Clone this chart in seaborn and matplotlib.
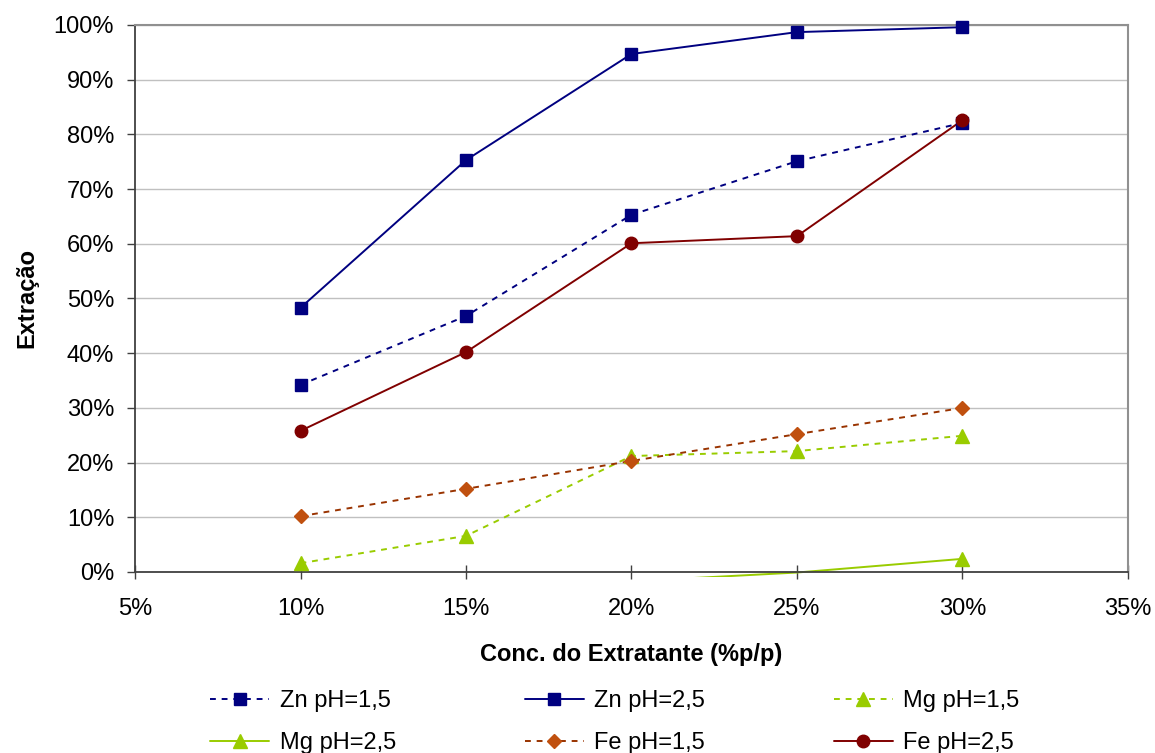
import matplotlib
matplotlib.use("Agg")
import matplotlib.pyplot as plt
import seaborn as sns
import pandas as pd
from matplotlib.patches import Rectangle
from matplotlib.lines import Line2D
from matplotlib.ticker import PercentFormatter, MultipleLocator

sns.set_theme(style="white")
plt.rcParams['font.family'] = ['Liberation Sans', 'DejaVu Sans']
plt.rcParams['text.color'] = 'black'
plt.rcParams['axes.labelcolor'] = 'black'

conc = [0.10, 0.15, 0.20, 0.25, 0.30]
zn_ph15 = [0.342, 0.468, 0.653, 0.751, 0.821]
zn_ph25 = [0.483, 0.753, 0.947, 0.987, 0.996]
mg_ph15 = [0.016, 0.066, 0.212, 0.221, 0.249]
mg_ph25 = [-0.08, -0.05, -0.017, -0.001, 0.024]
fe_ph15 = [0.102, 0.152, 0.203, 0.252, 0.300]
fe_ph25 = [0.258, 0.402, 0.601, 0.614, 0.826]

DOT = (0, (3, 3))
series = [
    ("Zn pH=1,5", zn_ph15, "#000080", "#000080", "s", DOT, 8.5),
    ("Zn pH=2,5", zn_ph25, "#000080", "#000080", "s", "-", 8.5),
    ("Mg pH=1,5", mg_ph15, "#99CC00", "#99CC00", "^", DOT, 9.5),
    ("Mg pH=2,5", mg_ph25, "#99CC00", "#99CC00", "^", "-", 9.5),
    ("Fe pH=1,5", fe_ph15, "#993300", "#C0500F", "D", DOT, 7),
    ("Fe pH=2,5", fe_ph25, "#800000", "#800000", "o", "-", 9),
]

fig = plt.figure(figsize=(11.55, 7.53), dpi=100)
ax = fig.add_axes([0.1169, 0.2404, 0.9766 - 0.1169, 0.9668 - 0.2404])

handles = {}
for name, vals, lc, mc, mk, ls, ms in series:
    df = pd.DataFrame({"x": conc, "y": vals})
    sns.lineplot(data=df, x="x", y="y", ax=ax, color=lc, linewidth=1.4,
                 linestyle=ls, legend=False)
    line = ax.lines[-1]
    line.set_clip_path(Rectangle((0, -0.009), 1, 1.05, transform=ax.transAxes))
    vis = df[(df["y"] >= 0) & (df["y"] <= 1)]
    ax.plot(vis["x"], vis["y"], linestyle="none", marker=mk, markersize=ms,
            markerfacecolor=mc, markeredgecolor=mc, clip_on=False, zorder=3)
    handles[name] = Line2D([], [], color=lc, linestyle=ls, linewidth=1.4,
                           marker=mk, markersize=ms, markerfacecolor=mc,
                           markeredgecolor=mc)

ax.set_xlim(0.05, 0.35)
ax.set_ylim(0, 1.0)
ax.xaxis.set_major_locator(MultipleLocator(0.05))
ax.yaxis.set_major_locator(MultipleLocator(0.10))
ax.xaxis.set_major_formatter(PercentFormatter(1.0, decimals=0))
ax.yaxis.set_major_formatter(PercentFormatter(1.0, decimals=0))
ax.yaxis.grid(True, color="#C0C0C0", linewidth=1)
ax.xaxis.grid(False)
ax.set_axisbelow(True)
for s in ["top", "right"]:
    ax.spines[s].set_color("#909090")
    ax.spines[s].set_linewidth(1.5)
for s in ["left", "bottom"]:
    ax.spines[s].set_color("#404040")
    ax.spines[s].set_linewidth(1.3)
ax.tick_params(axis="x", which="major", direction="inout", length=10,
               width=1, color="#404040", labelsize=17, labelcolor="black",
               bottom=True, pad=14)
ax.tick_params(axis="y", which="major", direction="out", length=6,
               width=1, color="#404040", labelsize=17, labelcolor="black",
               left=True, pad=9)
ax.set_xlabel("Conc. do Extratante (%p/p)", fontsize=17, fontweight="bold", labelpad=16)
ax.set_ylabel("Extração", fontsize=17, fontweight="bold", labelpad=11)

order = ["Zn pH=1,5", "Mg pH=2,5", "Zn pH=2,5", "Fe pH=1,5", "Mg pH=1,5", "Fe pH=2,5"]
fig.legend([handles[n] for n in order], order, loc="upper left",
           bbox_to_anchor=(210 / 1155, 1 - 690 / 753), ncol=3, frameon=False,
           fontsize=17, handlelength=2.5, columnspacing=5.45, labelspacing=0.85,
           handletextpad=0.45, borderpad=0, borderaxespad=0)

fig.savefig("out.png", dpi=100)
